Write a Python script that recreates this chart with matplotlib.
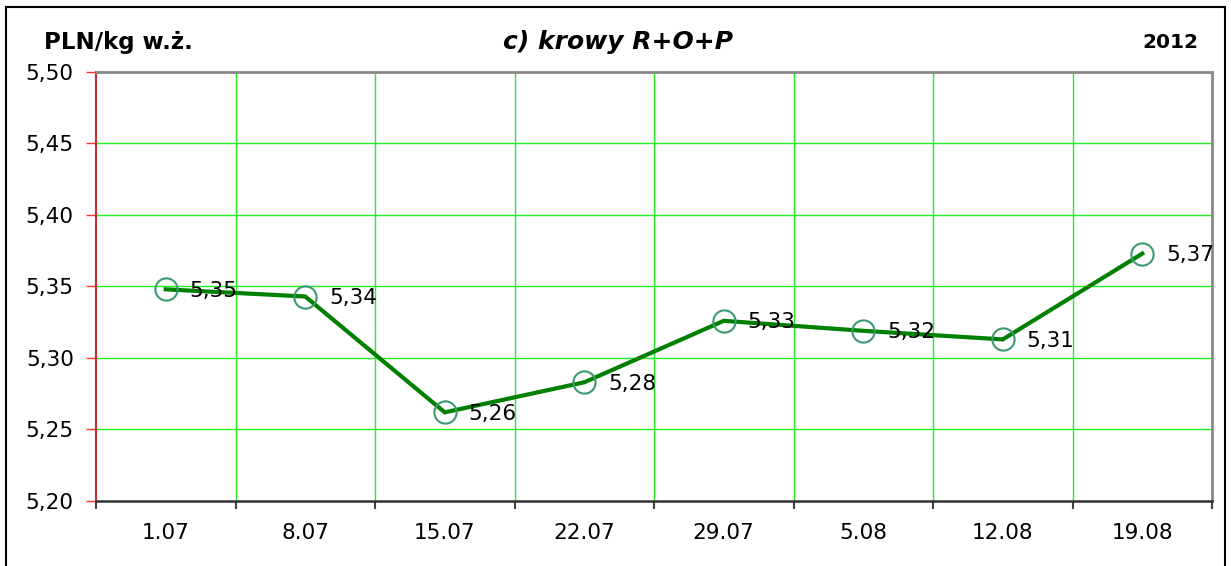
import matplotlib
matplotlib.use("Agg")
import matplotlib.pyplot as plt
from matplotlib.patches import Rectangle
import numpy as np

categories = ["1.07", "8.07", "15.07", "22.07", "29.07", "5.08", "12.08", "19.08"]
prices = [5.348, 5.343, 5.262, 5.283, 5.326, 5.319, 5.313, 5.373]
labels = ["5,35", "5,34", "5,26", "5,28", "5,33", "5,32", "5,31", "5,37"]
yticks = [5.20, 5.25, 5.30, 5.35, 5.40, 5.45, 5.50]
ytick_labels = ["5,20", "5,25", "5,30", "5,35", "5,40", "5,45", "5,50"]

plt.rcParams['font.family'] = ['DejaVu Sans']

W, H = 1231, 566
fig = plt.figure(figsize=(W / 100, H / 100), dpi=100)
ax = fig.add_axes([96 / W, 1 - 501 / H, (1212 - 96) / W, (501 - 72) / H])

x = np.arange(len(categories))
ax.set_xlim(-0.5, len(categories) - 0.5)
ax.set_ylim(yticks[0], yticks[-1])

# grid
for b in np.arange(0.5, len(categories) - 0.5, 1.0):
    ax.axvline(b, color='#22ee22', lw=1.0, zorder=1)
for yv in yticks[1:-1]:
    ax.axhline(yv, color='#22ee22', lw=1.0, zorder=1)

ax.plot(x, prices, color='#008000', lw=3.0, zorder=3, solid_joinstyle='miter')
ax.plot(x, prices, linestyle='none', marker='o', markersize=16, markerfacecolor='none',
        markeredgecolor='#3d9970', markeredgewidth=1.5, zorder=4)

for xi, yi, lab in zip(x, prices, labels):
    ax.annotate(lab, (xi, yi), xytext=(17, -1), textcoords='offset points',
                ha='left', va='center', fontsize=15.5, color='black', zorder=5)

# ticks
ax.set_yticks(yticks)
ax.set_yticklabels(ytick_labels, fontsize=15.5)
ax.tick_params(axis='y', colors='#ff3030', length=7, width=1, pad=9, labelcolor='black')
ax.set_xticks(x)
ax.set_xticklabels(categories, fontsize=15.5)
ax.tick_params(axis='x', length=0, pad=16, labelcolor='black')
ax.set_xticks(np.arange(-0.5, len(categories), 1.0), minor=True)
ax.tick_params(axis='x', which='minor', length=6, width=1.5, color='#404040')

ax.spines['left'].set_color('#c03030')
ax.spines['left'].set_linewidth(1.5)
ax.spines['bottom'].set_color('#303030')
ax.spines['bottom'].set_linewidth(1.8)
ax.spines['top'].set_color('#888888')
ax.spines['top'].set_linewidth(2)
ax.spines['right'].set_color('#888888')
ax.spines['right'].set_linewidth(2)

# titles
fig.text(44 / W, 1 - 42 / H, "PLN/kg w.ż.", fontsize=16.5, fontweight='bold', ha='left', va='center')
fig.text(618 / W, 1 - 42 / H, "c) krowy R+O+P", fontsize=18, fontweight='bold', style='italic',
         ha='center', va='center')
fig.text(1198 / W, 1 - 42 / H, "2012", fontsize=14.5, fontweight='bold', ha='right', va='center')

# outer frame
fig.patches.append(Rectangle((6 / W, -0.05), (1225 - 6) / W, 1.05 - 7 / H, transform=fig.transFigure,
                             fill=False, edgecolor='black', lw=1.5))

fig.savefig("out.png", dpi=100)
